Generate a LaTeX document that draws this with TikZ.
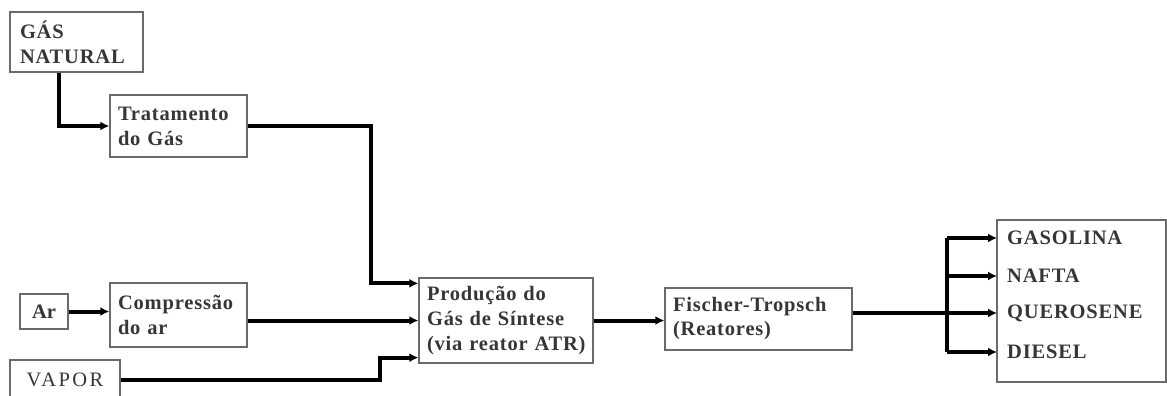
\documentclass[tikz,border=0pt]{standalone}
\usepackage{fontspec}
\setmainfont{Liberation Serif}
\usetikzlibrary{arrows.meta,calc}
\definecolor{txtgray}{HTML}{363636}
\definecolor{boxgray}{HTML}{6A6A6A}
\begin{document}
\begin{tikzpicture}[x=1pt,y=-1pt,
  box/.style={draw=boxgray,line width=1.3pt,rectangle,fill=white,
    text=txtgray,font=\fontsize{20.5}{25}\selectfont\bfseries\addfontfeature{LetterSpace=4},
    align=left,inner xsep=8pt,inner ysep=0pt},
  prodtxt/.style={text=txtgray,font=\fontsize{20.5}{25}\selectfont\bfseries\addfontfeature{LetterSpace=4},
    inner xsep=10pt,inner ysep=0pt,anchor=west},
  flow/.style={line width=4pt,-{Latex[length=9pt,width=9pt]}},
  link/.style={line width=4pt}]
\useasboundingbox (0,0) rectangle (1167,396);

% process boxes
\node[box,minimum width=133pt,minimum height=60pt,text width=113pt,inner xsep=10pt]
  (gn) at (76.5,42) {GÁS\\NATURAL};
\node[box,minimum width=137pt,minimum height=62pt,text width=121pt]
  (trat) at (178.5,126) {Tratamento\\do Gás};
\node[box,minimum width=48pt,minimum height=35pt,align=center,inner xsep=0pt,
  font=\fontsize{20.5}{25}\selectfont\bfseries]
  (ar) at (44,311.5) {Ar};
\node[box,minimum width=137pt,minimum height=64pt,text width=121pt]
  (comp) at (178.5,315) {Compressão\\do ar};
\node[box,minimum width=110pt,minimum height=40pt,align=center,inner xsep=0pt,
  font=\fontsize{20.5}{25}\selectfont\addfontfeature{LetterSpace=12}]
  (vapor) at (65,380) {VAPOR};
\node[box,minimum width=174pt,minimum height=85pt,text width=158pt]
  (prod) at (506,320.5) {Produção do\\Gás de Síntese\\(via reator ATR)};
\node[box,minimum width=187pt,minimum height=62pt,text width=171pt,
  font=\fontsize{20.5}{24}\selectfont\bfseries\addfontfeature{LetterSpace=4}]
  (ft) at (758.5,319) {Fischer-Tropsch\\(Reatores)};

% product box and its entries
\node[box,minimum width=169pt,minimum height=162pt] (out) at (1081.5,301) {};
\node[prodtxt] (gasolina) at (997,238) {GASOLINA};
\node[prodtxt] (nafta) at (997,276) {NAFTA};
\node[prodtxt] (querosene) at (997,313) {QUEROSENE};
\node[prodtxt] (diesel) at (997,352) {DIESEL};

% feed lines
\draw[flow] ([xshift=50pt]gn.south west) |- (trat.west);
\draw[flow] (trat.east) -| ([xshift=-47pt,yshift=-6pt]prod.north west)
  -- ([yshift=-6pt]prod.north west);
\draw[flow] (ar.east) -- (ar.east -| comp.west);
\draw[flow] (prod.west -| comp.east) -- (prod.west);
\draw[flow] (vapor.east) -| ([xshift=-38pt,yshift=6pt]prod.south west)
  -- ([yshift=6pt]prod.south west);
\draw[flow] (prod.east) -- (prod.east -| ft.west);

% distribution to products
\coordinate (fork) at (947,313);
\draw[link] ([yshift=6pt]ft.east) -- (fork);
\draw[line width=3.5pt] (fork |- gasolina.west) -- (fork |- diesel.west);
\foreach \p in {gasolina,nafta,querosene,diesel}
  \draw[flow,line width=3.5pt] (fork |- \p.west) -- (\p.west);
\end{tikzpicture}
\end{document}
